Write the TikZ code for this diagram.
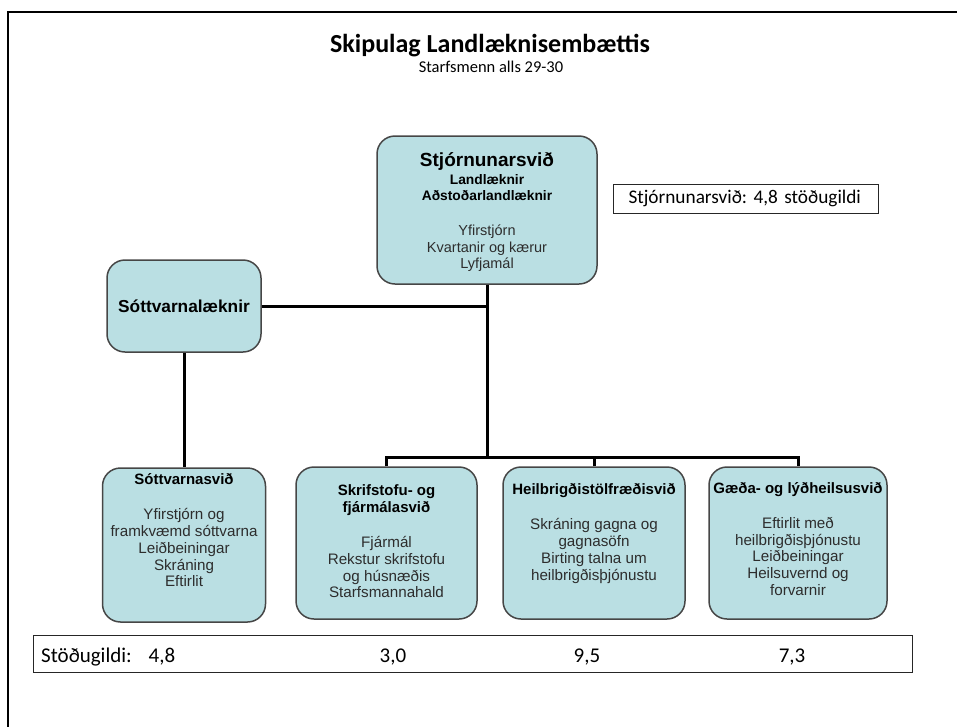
\documentclass[tikz,border=0pt]{standalone}
\usepackage{fontspec}
\setmainfont{Liberation Sans}
\newfontfamily\calibri{Carlito}
\frenchspacing
\definecolor{boxfill}{RGB}{186,223,227}
\definecolor{boxline}{RGB}{70,70,70}
\definecolor{bodygray}{RGB}{45,45,45}
\tikzset{
  orgbox/.style={draw=boxline, line width=1.5pt, fill=boxfill, rounded corners=18pt, inner sep=0pt},
  boxtext/.style={align=center, inner sep=0pt, text=bodygray, font=\fontsize{14.5}{16.5}\selectfont},
  lowtext/.style={boxtext, font=\fontsize{15.2}{16.8}\selectfont},
  link/.style={line width=3pt},
  note/.style={inner sep=0pt, font=\calibri\fontsize{19.3}{22}\selectfont},
  notebox/.style={note, draw=black!85, line width=1pt},
  rownote/.style={note, font=\calibri\fontsize{21}{24}\selectfont}
}
\newcommand\hd[1]{\textcolor{black}{\bfseries #1}}
\newcommand\lowhd[1]{\textcolor{black}{\fontsize{15}{16.8}\selectfont\bfseries #1}}

\begin{document}
\begin{tikzpicture}[x=1pt,y=-1pt]
\useasboundingbox (0,0) rectangle (957,726);
\draw[line width=2.5pt] (8,740) -- (8,12) -- (970,12);

% title
\node[font=\calibri\bfseries\fontsize{26}{30}\selectfont, anchor=base] (title) at (490,52) {Skipulag Landlæknisembættis};
\node[note, font=\calibri\fontsize{16.5}{19}\selectfont, anchor=base] (subtitle) at (491,72) {Starfsmenn alls 29-30};

% boxes
\node[orgbox, minimum width=220pt, minimum height=148pt] (stjorn) at (487,210) {};
\node[orgbox, minimum width=154pt, minimum height=92pt, font=\bfseries\fontsize{17.3}{20}\selectfont] (laeknir) at (184,306) {Sóttvarnalæknir};
\node[orgbox, minimum width=163pt, minimum height=154pt] (svid) at (184,545) {};
\node[orgbox, minimum width=181pt, minimum height=152pt] (skrif) at (386.5,543) {};
\node[orgbox, minimum width=182pt, minimum height=152pt] (heilb) at (594,543) {};
\node[orgbox, minimum width=178pt, minimum height=152pt] (gaeda) at (798,543) {};

\node[boxtext] (stjorn-txt) at ([yshift=-2.5pt]stjorn.center) {{\fontsize{19}{20}\selectfont\hd{Stjórnunarsvið}}\\[1pt] {\fontsize{13.8}{16}\selectfont\hd{Landlæknir}}\\ {\fontsize{13.8}{16}\selectfont\hd{Aðstoðarlandlæknir}}\\[18.5pt] Yfirstjórn\\ Kvartanir og kærur\\ Lyfjamál};
\node[lowtext] (svid-txt) at ([yshift=14.5pt]svid.center) {\lowhd{Sóttvarnasvið}\\[18pt] Yfirstjórn og\\ framkvæmd sóttvarna\\ Leiðbeiningar\\ Skráning\\ Eftirlit};
\node[lowtext] (skrif-txt) at ([yshift=1.5pt]skrif.center) {\lowhd{Skrifstofu- og}\\ \lowhd{fjármálasvið}\\[18pt] Fjármál\\ Rekstur skrifstofu\\ og húsnæðis\\ Starfsmannahald};
\node[lowtext] (heilb-txt) at ([yshift=9.5pt]heilb.center) {\lowhd{Heilbrigðistölfræðisvið}\\[18pt] Skráning gagna og\\ gagnasöfn\\ Birting talna um\\ heilbrigðisþjónustu};
\node[lowtext] (gaeda-txt) at ([yshift=4pt]gaeda.center) {\lowhd{Gæða- og lýðheilsusvið}\\[18pt] Eftirlit með\\ heilbrigðisþjónustu\\ Leiðbeiningar\\ Heilsuvernd og\\ forvarnir};

% connectors
\coordinate (bus) at (487,457);
\draw[link] (stjorn) -- (bus);
\draw[link] (laeknir) -- (laeknir -| stjorn);
\draw[link] (laeknir) -- (svid);
\draw[link] (skrif.north) -- (skrif |- bus) -- (gaeda |- bus) -- (gaeda.north);
\draw[link] (heilb.north) -- (heilb |- bus);

% stodugildi
\node[notebox, anchor=west, text width=235pt, inner xsep=15pt, minimum height=29pt, align=left] (stjornnote) at (613,198.5) {Stjórnunarsvið: 4,8 stöðugildi};
\node[notebox, anchor=west, minimum width=879pt, minimum height=37pt] (stodbox) at (33,653.5) {};
\node[rownote, anchor=base west] (stodlabel) at (41,662) {Stöðugildi:};
\node[rownote, anchor=base] (stod-svid) at (162,662) {4,8};
\node[rownote, anchor=base] (stod-skrif) at (393,662) {3,0};
\node[rownote, anchor=base] (stod-heilb) at (587,662) {9,5};
\node[rownote, anchor=base] (stod-gaeda) at (792,662) {7,3};
\end{tikzpicture}
\end{document}
